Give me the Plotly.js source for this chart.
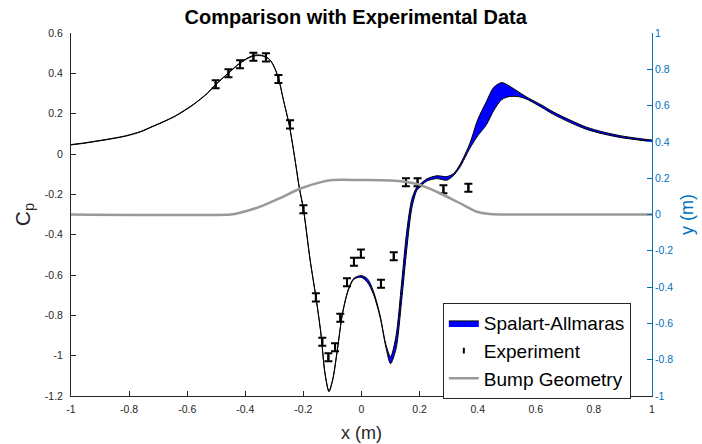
<!DOCTYPE html>
<html>
<head>
<meta charset="utf-8">
<script src="https://cdn.plot.ly/plotly-3.0.1.min.js"></script>
<style>html,body{margin:0;padding:0;background:#fff;}#chart{width:702px;height:444px;}</style>
</head>
<body>
<div id="chart"></div>
<script>
// CFD (Spalart-Allmaras) uncertainty band: x positions and lower / upper Cp edges
const xCfd = [-1, -0.96, -0.92, -0.86, -0.81, -0.76, -0.72, -0.68, -0.64, -0.58, -0.53, -0.50, -0.46, -0.42, -0.39, -0.37, -0.344, -0.32, -0.304, -0.286, -0.269, -0.249, -0.231, -0.214, -0.20, -0.177, -0.157, -0.14, -0.126, -0.112, -0.099, -0.083, -0.065, -0.045, -0.026, -0.002, 0.02, 0.041, 0.064, 0.084, 0.10, 0.119, 0.138, 0.156, 0.173, 0.19, 0.20, 0.224, 0.259, 0.293, 0.316, 0.339, 0.373, 0.40, 0.43, 0.455, 0.483, 0.51, 0.546, 0.574, 0.62, 0.66, 0.72, 0.775, 0.83, 0.89, 0.95, 1.0];
const cpLower = [0.045, 0.052, 0.061, 0.075, 0.089, 0.11, 0.135, 0.16, 0.188, 0.243, 0.301, 0.346, 0.398, 0.448, 0.475, 0.486, 0.487, 0.472, 0.441, 0.375, 0.268, 0.144, -0.01, -0.17, -0.274, -0.526, -0.711, -0.889, -1.087, -1.179, -1.121, -0.972, -0.79, -0.674, -0.621, -0.611, -0.636, -0.695, -0.81, -0.958, -1.04, -0.965, -0.73, -0.47, -0.27, -0.182, -0.166, -0.135, -0.122, -0.13, -0.108, -0.065, 0.028, 0.09, 0.145, 0.215, 0.27, 0.285, 0.283, 0.268, 0.231, 0.197, 0.155, 0.122, 0.1, 0.082, 0.07, 0.061];
const cpUpper = [0.047, 0.054, 0.063, 0.077, 0.091, 0.112, 0.137, 0.162, 0.19, 0.245, 0.303, 0.348, 0.4, 0.45, 0.478, 0.49, 0.49, 0.474, 0.443, 0.377, 0.27, 0.146, -0.006, -0.166, -0.27, -0.522, -0.707, -0.885, -1.083, -1.174, -1.116, -0.967, -0.785, -0.669, -0.616, -0.603, -0.618, -0.68, -0.80, -0.945, -1.005, -0.9, -0.64, -0.38, -0.225, -0.165, -0.152, -0.124, -0.108, -0.112, -0.098, -0.052, 0.053, 0.17, 0.26, 0.33, 0.354, 0.336, 0.303, 0.278, 0.243, 0.209, 0.167, 0.133, 0.11, 0.091, 0.078, 0.069];

// Experimental data
const expX = [-0.502, -0.458, -0.418, -0.372, -0.329, -0.286, -0.246, -0.20, -0.157, -0.135, -0.114, -0.091, -0.073, -0.05, -0.026, -0.002, 0.067, 0.111, 0.153, 0.193, 0.282, 0.368];
const expCp = [0.346, 0.400, 0.445, 0.482, 0.479, 0.372, 0.147, -0.274, -0.711, -0.931, -1.008, -0.958, -0.812, -0.636, -0.534, -0.494, -0.643, -0.507, -0.14, -0.14, -0.175, -0.167];
const expErr = [0.02, 0.02, 0.02, 0.02, 0.02, 0.02, 0.02, 0.02, 0.02, 0.02, 0.02, 0.02, 0.02, 0.02, 0.02, 0.02, 0.02, 0.02, 0.02, 0.02, 0.02, 0.02];

// Bump geometry (right axis, y in m)
const bumpX = [-1, -0.45, -0.418, -0.349, -0.281, -0.212, -0.143, -0.1, 0, 0.1, 0.15, 0.201, 0.27, 0.339, 0.397, 0.442, 0.5, 1];
const bumpY = [0, 0, 0.01, 0.043, 0.09, 0.142, 0.177, 0.19, 0.19, 0.188, 0.18, 0.163, 0.117, 0.062, 0.015, 0.003, 0, 0];

// Tick labels
const xTickVals = [-1, -0.8, -0.6, -0.4, -0.2, 0, 0.2, 0.4, 0.6, 0.8, 1];
const xTickText = ['-1', '-0.8', '-0.6', '-0.4', '-0.2', '0', '0.2', '0.4', '0.6', '0.8', '1'];
const yTickVals = [0.6, 0.4, 0.2, 0, -0.2, -0.4, -0.6, -0.8, -1, -1.2];
const yTickText = ['0.6', '0.4', '0.2', '0', '-0.2', '-0.4', '-0.6', '-0.8', '-1', '-1.2'];
const y2TickVals = [1, 0.8, 0.6, 0.4, 0.2, 0, -0.2, -0.4, -0.6, -0.8, -1];
const y2TickText = ['1', '0.8', '0.6', '0.4', '0.2', '0', '-0.2', '-0.4', '-0.6', '-0.8', '-1'];

const FONT = '"Liberation Sans", Arial, Helvetica, sans-serif';
const BLUE_AX = '#0072BD';
const DARK = '#262626';

const traces = [
  {
    x: xCfd, y: cpLower, type: 'scatter', mode: 'lines',
    line: {color: '#000', width: 1, shape: 'spline', smoothing: 0.8},
    showlegend: false, hoverinfo: 'skip'
  },
  {
    x: xCfd, y: cpUpper, type: 'scatter', mode: 'lines', name: 'Spalart-Allmaras',
    fill: 'tonexty', fillcolor: '#0000FF',
    line: {color: '#000', width: 1, shape: 'spline', smoothing: 0.8}
  },
  {
    x: expX, y: expCp, type: 'scatter', mode: 'markers', name: 'Experiment',
    marker: {symbol: 'line-ns-open', size: 4, color: '#000', line: {color: '#000', width: 2}},
    error_y: {type: 'data', array: expErr, visible: true, color: '#000', thickness: 2, width: 4}
  },
  {
    x: bumpX, y: bumpY, yaxis: 'y2', type: 'scatter', mode: 'lines', name: 'Bump Geometry',
    line: {color: '#999999', width: 2.5, shape: 'spline', smoothing: 0.6}
  }
];

const layout = {
  width: 702, height: 444,
  margin: {l: 71, r: 50, t: 33, b: 48, pad: 0},
  paper_bgcolor: '#fff', plot_bgcolor: '#fff',
  font: {family: FONT, color: DARK, size: 10},
  title: {
    text: '<b>Comparison with Experimental Data</b>',
    font: {family: FONT, size: 20, color: '#000'},
    xref: 'paper', x: 0.49, xanchor: 'center',
    yref: 'container', y: 0.962, yanchor: 'middle'
  },
  xaxis: {
    range: [-1, 1], tickmode: 'array', tickvals: xTickVals, ticktext: xTickText,
    ticks: 'inside', ticklen: 5, tickcolor: DARK, showline: true, linecolor: DARK, linewidth: 1,
    showgrid: false, zeroline: false, tickfont: {size: 10.5, color: DARK}, ticklabelstandoff: 3,
    title: {text: 'x (m)', font: {size: 18, color: DARK}, standoff: 12}
  },
  yaxis: {
    range: [-1.2, 0.6], tickmode: 'array', tickvals: yTickVals, ticktext: yTickText,
    ticks: 'inside', ticklen: 5, tickcolor: DARK, showline: true, linecolor: DARK, linewidth: 1,
    showgrid: false, zeroline: false, tickfont: {size: 10.5, color: DARK}, ticklabelstandoff: 5,
    title: {text: 'C<sub>p</sub>', font: {size: 21, color: DARK}, standoff: 8}
  },
  yaxis2: {
    overlaying: 'y', side: 'right', anchor: 'x',
    range: [-1, 1], tickmode: 'array', tickvals: y2TickVals, ticktext: y2TickText,
    ticks: 'inside', ticklen: 5, tickcolor: BLUE_AX, showline: true, linecolor: BLUE_AX, linewidth: 1,
    showgrid: false, zeroline: false, tickfont: {size: 10.5, color: BLUE_AX},
    title: {text: 'y (m)', font: {size: 18, color: BLUE_AX}, standoff: 8}
  },
  legend: {
    x: 0.64, y: 0.256, xanchor: 'left', yanchor: 'top', traceorder: 'normal',
    bgcolor: '#fff', bordercolor: DARK, borderwidth: 1,
    font: {size: 19, color: '#000', family: FONT}, tracegroupgap: 0, itemsizing: 'trace'
  },
  showlegend: true
};

Plotly.newPlot('chart', traces, layout, {staticPlot: true, displayModeBar: false});
</script>
</body>
</html>
